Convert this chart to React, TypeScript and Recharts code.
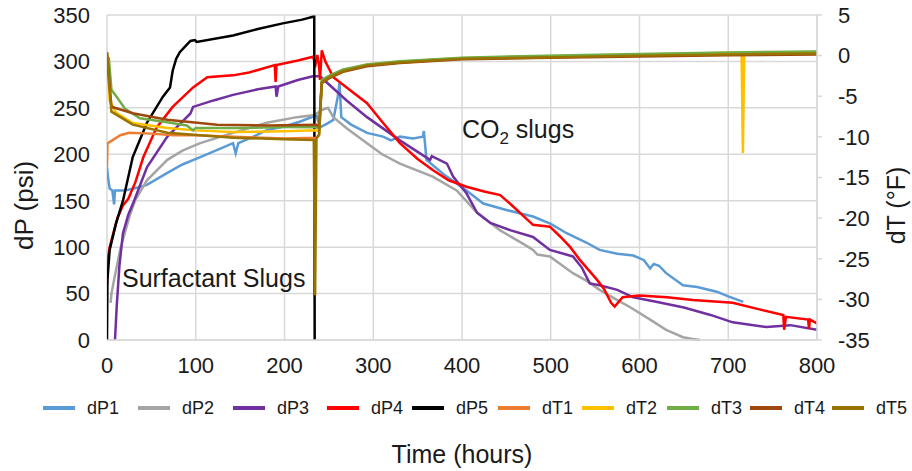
import React from 'react';
import { LineChart, Line, XAxis, YAxis, CartesianGrid, Legend, ReferenceDot, Label } from 'recharts';

type Pt = [number, number];

const timeTicks = [0, 100, 200, 300, 400, 500, 600, 700, 800];
const dpTicks = [0, 50, 100, 150, 200, 250, 300, 350];
const dtTicks = [-35, -30, -25, -20, -15, -10, -5, 0, 5];

const dP1: Pt[] = [[0,186],[1,176],[3,163],[6,161],[8,146],[9,161],[20,161],[30,163],[45,167],[68,180],[85,189],[105,197],[125,205],[142,212],[145,201],[148,212],[165,219],[180,226],[200,230],[217,235],[236,242],[240,229],[248,233],[255,237],[260,262],[262,277],[264,240],[275,232],[293,223],[311,219],[320,215],[330,219],[345,217],[356,219],[357,225],[360,194],[380,178],[405,161],[424,147],[450,140],[480,133],[500,125],[518,115],[540,105],[555,97],[575,93],[593,91],[605,86],[612,77],[616,82],[622,80],[630,72],[649,59],[665,57],[687,52],[700,47],[717,41]];
const dP2: Pt[] = [[4,40],[5,50],[8,65],[11,79],[15,98],[20,115],[26,135],[32,151],[45,172],[68,194],[85,204],[105,212],[142,223],[180,234],[214,240],[232,242],[238,245],[243,248],[249,250],[255,240],[270,228],[293,212],[310,200],[330,190],[367,176],[394,161],[417,137],[443,118],[470,103],[480,97],[485,92],[499,90],[525,72],[540,64],[555,54],[575,43],[590,35],[612,22],[630,11],[649,3],[660,1],[668,0]];
const dP3: Pt[] = [[9,0],[11,37],[14,80],[18,115],[24,135],[31,151],[45,186],[68,219],[94,244],[97,251],[120,258],[142,264],[170,270],[190,273],[191,262],[193,273],[215,280],[232,284],[240,284],[248,277],[270,258],[293,240],[330,215],[364,194],[366,198],[383,190],[390,176],[405,158],[417,137],[432,126],[455,118],[480,111],[499,97],[525,90],[535,78],[544,61],[555,59],[575,54],[593,46],[620,41],[650,35],[680,27],[705,19],[743,14],[770,16],[800,11]];
const dP4: Pt[] = [[0,60],[1,88],[3,100],[8,118],[12,132],[18,145],[24,152],[32,170],[41,197],[56,229],[74,251],[97,272],[113,283],[142,285],[160,288],[189,296],[190,278],[191,296],[215,301],[232,305],[235,297],[237,307],[239,295],[240,280],[242,312],[246,300],[255,283],[270,272],[293,255],[310,235],[330,212],[350,195],[367,183],[385,172],[405,165],[425,160],[443,156],[454,147],[480,124],[499,122],[510,112],[522,100],[533,86],[552,65],[560,55],[568,40],[572,36],[581,46],[600,48],[631,46],[660,43],[705,40],[735,33],[762,27],[763,11],[765,25],[790,22],[791,12],[792,22],[800,18]];
const dP5: Pt[] = [[0,0],[0.5,65],[3,97],[10,125],[18,150],[29,197],[45,234],[63,262],[71,272],[74,290],[78,303],[82,310],[90,318],[94,322],[99,323],[101,321],[142,328],[170,335],[198,341],[220,345],[232,348],[233.5,348],[234,0]];

const dT1: Pt[] = [[0,-13.7],[0.5,-10.8],[5,-10.5],[15,-9.8],[25,-9.5],[50,-9.6],[75,-9.8],[100,-9.8],[150,-10.0],[200,-10.2],[236,-10.1],[239,-9.8],[242,-3.3],[250,-2.7],[266,-1.9],[293,-1.2],[330,-0.85],[400,-0.35],[480,-0.2],[600,0.05],[700,0.2],[800,0.3]];
const dT2: Pt[] = [[0,0.3],[3,-5.5],[10,-7.0],[29,-8.3],[68,-8.9],[100,-9.2],[142,-9.4],[200,-9.3],[236,-9.2],[239,-9.4],[242,-3.1],[250,-2.6],[266,-1.8],[293,-1.1],[330,-0.75],[400,-0.3],[480,-0.1],[600,0.15],[700,0.35],[715,0.35],[716.5,-12.0],[718,0.35],[800,0.45]];
const dT3: Pt[] = [[1,-2.0],[2,-0.2],[5,-4.2],[11,-5.1],[20,-6.5],[37,-7.7],[68,-8.2],[90,-8.6],[97,-9.2],[100,-8.9],[150,-8.9],[200,-8.8],[236,-8.8],[239,-9.0],[242,-3.0],[250,-2.5],[266,-1.7],[293,-1.1],[330,-0.7],[400,-0.25],[480,-0.05],[600,0.2],[700,0.4],[800,0.5]];
const dT4: Pt[] = [[0,0.4],[5,-6.3],[29,-7.1],[68,-7.9],[124,-8.5],[180,-8.6],[236,-8.5],[239,-8.8],[242,-3.4],[250,-2.8],[266,-2.0],[293,-1.3],[330,-0.9],[400,-0.45],[480,-0.3],[600,-0.1],[700,0.05],[800,0.15]];
const dT5: Pt[] = [[0,0.4],[2,-3.0],[5,-6.9],[29,-8.5],[68,-9.5],[142,-10.1],[200,-10.3],[233,-10.4],[234.5,-29.5],[236,-10.2],[239,-9.7],[242,-3.3],[250,-2.7],[266,-1.9],[293,-1.2],[330,-0.85],[400,-0.4],[480,-0.25],[600,0.0],[700,0.15],[800,0.25]];

const seriesNames = ['dP1', 'dP2', 'dP3', 'dP4', 'dP5', 'dT1', 'dT2', 'dT3', 'dT4', 'dT5'];
const seriesData: Pt[][] = [dP1, dP2, dP3, dP4, dP5, dT1, dT2, dT3, dT4, dT5];
const seriesAxis = ['p', 'p', 'p', 'p', 'p', 't', 't', 't', 't', 't'];
const seriesColors = ['#5B9BD5', '#A5A5A5', '#7030A0', '#FF0000', '#000000', '#ED7D31', '#FFC000', '#70AD47', '#9E480E', '#997300'];

const FONT = '"Liberation Sans", Arial, Helvetica, sans-serif';
const TEXT = '#1a1a1a';
const GRID = '#d9d9d9';
const legendWidths = [95, 95, 94, 85, 86, 84, 85, 83, 82, 80];

const LegendContent = () => (
  <div style={{ display: 'flex', alignItems: 'center', height: 24, paddingLeft: 43, fontFamily: FONT, fontSize: 18, color: TEXT }}>
    {seriesNames.map((n, i) => (
      <div key={n} style={{ display: 'flex', alignItems: 'center', width: legendWidths[i], flex: 'none' }}>
        <svg width={32} height={6} style={{ marginRight: 12, flex: 'none' }}>
          <line x1={0} y1={3} x2={32} y2={3} stroke={seriesColors[i]} strokeWidth={4} />
        </svg>
        <span style={{ whiteSpace: 'nowrap' }}>{n}</span>
      </div>
    ))}
  </div>
);

const leftTitle = (props: any) => {
  const vb = props.viewBox;
  const cx = vb.x + 24;
  const cy = vb.y + vb.height / 2 + 28;
  return (
    <text x={cx} y={cy} transform={`rotate(-90 ${cx} ${cy})`} textAnchor="middle" dominantBaseline="central" fontSize={26} fill={TEXT} fontFamily={FONT}>dP (psi)</text>
  );
};

const rightTitle = (props: any) => {
  const vb = props.viewBox;
  const cx = vb.x + 79;
  const cy = vb.y + vb.height / 2 + 28;
  return (
    <text x={cx} y={cy} transform={`rotate(-90 ${cx} ${cy})`} textAnchor="middle" dominantBaseline="central" fontSize={25} fill={TEXT} fontFamily={FONT}>dT (°F)</text>
  );
};

const bottomTitle = (props: any) => {
  const vb = props.viewBox;
  const cx = vb.x + vb.width / 2;
  return (
    <text x={cx} y={vb.y + 123} textAnchor="middle" fontSize={25} fill={TEXT} fontFamily={FONT}>Time (hours)</text>
  );
};

const surfLabel = (props: any) => {
  const vb = props.viewBox;
  return (
    <text x={vb.x} y={vb.y} fontSize={25} fill={TEXT} fontFamily={FONT}>Surfactant Slugs</text>
  );
};

const co2Label = (props: any) => {
  const vb = props.viewBox;
  return (
    <text x={vb.x} y={vb.y} fontSize={25} fill={TEXT} fontFamily={FONT}>
      CO<tspan fontSize={17} dy={6}>2</tspan><tspan dy={-6}> slugs</tspan>
    </text>
  );
};

export default function App() {
  return (
    <div style={{ position: 'absolute', left: 0, top: 0, width: 912, height: 471, background: '#fff' }}>
      <LineChart width={912} height={471} margin={{ top: 15, right: 0, bottom: 0, left: 0 }} style={{ fontFamily: FONT }}>
        <CartesianGrid yAxisId="p" stroke={GRID} strokeWidth={1.5} />
        <XAxis
          type="number"
          dataKey="t"
          domain={[0, 800]}
          ticks={timeTicks}
          allowDataOverflow
          height={107}
          tickLine={false}
          tickSize={0}
          tickMargin={17}
          axisLine={{ stroke: GRID, strokeWidth: 1.5 }}
          tick={{ fontSize: 22, fill: TEXT }}
        >
          <Label content={bottomTitle} />
        </XAxis>
        <YAxis
          yAxisId="p"
          orientation="left"
          domain={[0, 350]}
          ticks={dpTicks}
          width={107}
          axisLine={false}
          tickLine={false}
          tickSize={0}
          tickMargin={17}
          tick={{ fontSize: 22, fill: TEXT }}
        >
          <Label content={leftTitle} />
        </YAxis>
        <YAxis
          yAxisId="t"
          orientation="right"
          domain={[-35, 5]}
          ticks={dtTicks}
          width={95}
          axisLine={{ stroke: GRID, strokeWidth: 1.5 }}
          tickLine={{ stroke: GRID, strokeWidth: 1.5 }}
          tickSize={5}
          tickMargin={16}
          tick={{ fontSize: 22, fill: TEXT }}
        >
          <Label content={rightTitle} />
        </YAxis>
        <Legend
          content={<LegendContent />}
          verticalAlign="bottom"
          wrapperStyle={{ top: 396, bottom: 'auto', left: 0, width: 912, height: 24 }}
        />
        {seriesNames.map((n, i) => (
          <Line
            key={n}
            name={n}
            yAxisId={seriesAxis[i]}
            data={seriesData[i].map(([t, v]) => ({ t, v }))}
            dataKey="v"
            type="linear"
            stroke={seriesColors[i]}
            strokeWidth={2.5}
            dot={false}
            activeDot={false}
            isAnimationActive={false}
          />
        ))}
        <ReferenceDot yAxisId="p" x={18} y={56} r={1} fill="none" stroke="none">
          <Label content={surfLabel} />
        </ReferenceDot>
        <ReferenceDot yAxisId="p" x={401} y={217} r={1} fill="none" stroke="none">
          <Label content={co2Label} />
        </ReferenceDot>
      </LineChart>
    </div>
  );
}
